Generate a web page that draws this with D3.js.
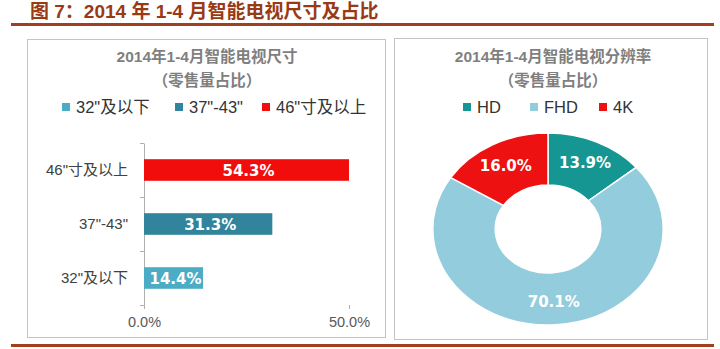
<!DOCTYPE html>
<html><head><meta charset="utf-8">
<script src="https://cdn.jsdelivr.net/npm/d3@7"></script>
<style>
html,body{margin:0;padding:0;background:#fff;}
svg{display:block;}
</style>
</head><body>
<svg id="c" width="720" height="349"></svg>
<script>
// ---- data ----
const figTitle = '图 7：2014 年 1-4 月智能电视尺寸及占比';
const leftTitle = '2014年1-4月智能电视尺寸';
const leftSub = '（零售量占比）';
const sizeCats = ['46"寸及以上', '37"-43"', '32"及以下'];
const sizeVals = [0.543, 0.313, 0.144];
const sizeLegend = ['32"及以下', '37"-43"', '46"寸及以上'];
const sizeColors = {'32"及以下':'#4BACC6', '37"-43"':'#31849B', '46"寸及以上':'#F20D0D'};
const xTicks = [0, 0.5];

const rightTitle = '2014年1-4月智能电视分辨率';
const rightSub = '（零售量占比）';
const resCats = ['HD', 'FHD', '4K'];
const resVals = [0.139, 0.701, 0.160];
const resColors = {'HD':'#159692', 'FHD':'#93CDDD', '4K':'#EE1111'};

// ---- drawing ----
const svg = d3.select('#c');
const cjk = '"Liberation Sans","Noto Sans CJK SC",sans-serif';
const latinBold = '"DejaVu Sans","Noto Sans CJK SC",sans-serif';

// figure title
svg.append('text').attr('x', 30).attr('y', 18)
  .attr('font-family', cjk).attr('font-weight', 'bold').attr('font-size', 19)
  .attr('fill', '#9A3A14').text(figTitle);
svg.append('rect').attr('x', 11).attr('y', 23).attr('width', 703).attr('height', 3).attr('fill', '#A0401E');
svg.append('rect').attr('x', 11).attr('y', 344).attr('width', 703).attr('height', 3).attr('fill', '#A0401E');

// panels
svg.append('rect').attr('x', 27.5).attr('y', 39.5).attr('width', 358).attr('height', 298)
  .attr('fill', '#fff').attr('stroke', '#C4C4C4').attr('stroke-width', 1);
svg.append('rect').attr('x', 394.5).attr('y', 38.5).attr('width', 313).attr('height', 301)
  .attr('fill', '#fff').attr('stroke', '#C4C4C4').attr('stroke-width', 1);

function titles(cx, t, s) {
  svg.append('text').attr('x', cx).attr('y', 62).attr('text-anchor', 'middle')
    .attr('font-family', cjk).attr('font-weight', 'bold').attr('font-size', 15.5)
    .attr('fill', '#7F7F7F').text(t);
  svg.append('text').attr('x', cx).attr('y', 86).attr('text-anchor', 'middle')
    .attr('font-family', cjk).attr('font-weight', 'bold').attr('font-size', 15.5)
    .attr('fill', '#7F7F7F').text(s);
}
titles(207, leftTitle, leftSub);
titles(553, rightTitle, rightSub);

function legend(items, xs, colors) {
  const g = svg.append('g');
  items.forEach((d, i) => {
    g.append('rect').attr('x', xs[i]).attr('y', 103).attr('width', 8).attr('height', 8).attr('fill', colors[d]);
    g.append('text').attr('x', xs[i] + 14).attr('y', 113)
      .attr('font-family', cjk).attr('font-size', 16.5).attr('fill', '#333').text(d);
  });
}
legend(sizeLegend, [62, 175, 262], sizeColors);
legend(resCats, [463, 530, 599], resColors);

// ---- bar chart ----
const x = d3.scaleLinear().domain([0, 0.5]).range([144, 349]).clamp(true);
const y = d3.scaleBand().domain(sizeCats).range([143, 305]).paddingInner(0.6).paddingOuter(0.3);
const yl = d3.scaleLinear().domain([0, sizeCats.length]).range([143, 305]);

const gy = svg.append('g').attr('transform', 'translate(144,0)')
  .call(d3.axisLeft(yl).tickValues(d3.range(sizeCats.length + 1)).tickFormat('').tickSize(4).tickSizeOuter(0));
gy.selectAll('path,line').attr('stroke', '#B0B0B0');

const gx = svg.append('g').attr('transform', 'translate(0,305)')
  .call(d3.axisBottom(x).tickValues(xTicks).tickFormat(d3.format('.1%')).tickSize(4).tickPadding(8));
gx.select('.domain').remove();
gx.selectAll('line').attr('stroke', '#B0B0B0');
gx.selectAll('text').attr('font-family', cjk).attr('font-size', 14.5).attr('fill', '#595959');

// category labels
svg.append('g').selectAll('text').data(sizeCats).join('text')
  .attr('x', 128).attr('y', d => y(d) + y.bandwidth() / 2 + 5)
  .attr('text-anchor', 'end').attr('font-family', cjk).attr('font-size', 15).attr('fill', '#404040')
  .text(d => d);

svg.append('g').selectAll('rect').data(sizeCats).join('rect')
  .attr('x', x(0)).attr('y', d => y(d))
  .attr('width', (d, i) => x(sizeVals[i]) - x(0)).attr('height', y.bandwidth())
  .attr('fill', d => sizeColors[d]);

svg.append('g').selectAll('text').data(sizeCats).join('text')
  .attr('x', (d, i) => (x(0) + x(sizeVals[i])) / 2 + 2)
  .attr('y', d => y(d) + y.bandwidth() / 2 + 5.5)
  .attr('text-anchor', 'middle').attr('font-family', latinBold).attr('font-weight', 'bold')
  .attr('font-size', 15).attr('fill', '#fff')
  .text((d, i) => d3.format('.1%')(sizeVals[i]));

// ---- donut ----
const cx = 548, cy = 229, sx = 1.2;
const R = 96, r = 44;
const pie = d3.pie().sort(null).value(d => d.v);
const arcs = pie(resCats.map((c, i) => ({c, v: resVals[i]})));
const arc = d3.arc().innerRadius(r).outerRadius(R);
const gd = svg.append('g').attr('transform', `translate(${cx},${cy}) scale(${sx},1)`);
gd.selectAll('path').data(arcs).join('path')
  .attr('d', arc).attr('fill', d => resColors[d.data.c])
  .attr('stroke', '#fff').attr('stroke-width', 1.5).attr('vector-effect', 'non-scaling-stroke');

const labArc = d3.arc().innerRadius((r + R) / 2 + 3).outerRadius((r + R) / 2 + 3);
svg.append('g').selectAll('text').data(arcs).join('text')
  .attr('x', d => cx + labArc.centroid(d)[0] * sx)
  .attr('y', d => cy + labArc.centroid(d)[1] + 5.5)
  .attr('text-anchor', 'middle').attr('font-family', latinBold).attr('font-weight', 'bold')
  .attr('font-size', 15).attr('fill', '#fff')
  .text(d => d3.format('.1%')(d.data.v));
</script>
</body></html>
